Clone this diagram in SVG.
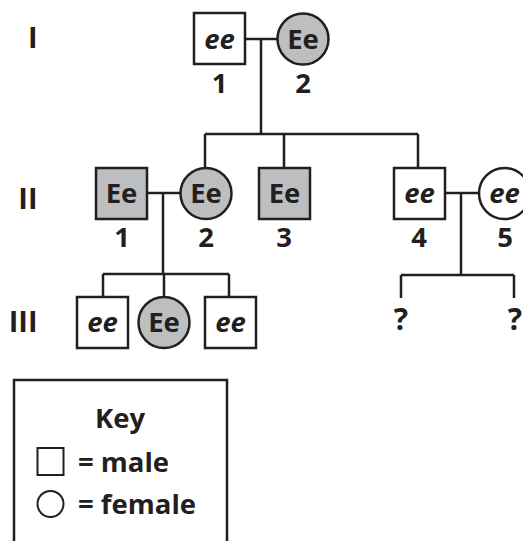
<svg xmlns="http://www.w3.org/2000/svg" width="523" height="541" viewBox="0 0 523 541">
<style>
text{font-family:"Open Sans","Noto Sans","Liberation Sans",sans-serif;font-weight:700;fill:#231f20}
.g{font-size:27.5px;text-anchor:middle}
.i{font-style:italic}
.n{font-size:27.5px;text-anchor:middle}
.q{font-size:30px;text-anchor:middle}
.r{font-size:29px;text-anchor:end}
.k{font-size:27.5px}
.sh{stroke:#231f20;stroke-width:2.5;fill:#fff}
.af{fill:#bcbec0}
.ln{stroke:#231f20;stroke-width:2.5;fill:none}
</style>
<rect width="523" height="541" fill="#fff"/>
<g id="generations">
<text class="r" x="37.5" y="48">I</text>
<text class="r" x="37.5" y="209">II</text>
<text class="r" x="37.5" y="332">III</text>
</g>
<g id="connectors">
<path class="ln" d="M245 39H277M261 39V134M205 134H418M205 134V168M284 134V168M418 134V168"/>
<path class="ln" d="M147 193H181M163 193V274M103 274H229M103 274V297M164 274V297M229 274V297"/>
<path class="ln" d="M445 193H479M461 193V275M401 275H514M401 275V298M514 275V298"/>
</g>
<g id="I-1"><rect class="sh" x="194" y="13" width="51" height="51"/><text class="g i" x="219.5" y="48.5">ee</text><text class="n" x="219.5" y="93">1</text></g>
<g id="I-2"><circle class="sh af" cx="303" cy="39" r="25.5"/><text class="g" x="303" y="48.5">Ee</text><text class="n" x="303" y="93">2</text></g>
<g id="II-1"><rect class="sh af" x="96" y="168" width="51" height="51"/><text class="g" x="121.5" y="202.5">Ee</text><text class="n" x="122" y="247">1</text></g>
<g id="II-2"><circle class="sh af" cx="206" cy="193.5" r="25.5"/><text class="g" x="206" y="202.5">Ee</text><text class="n" x="206" y="247">2</text></g>
<g id="II-3"><rect class="sh af" x="259" y="168" width="51" height="51"/><text class="g" x="284.5" y="202.5">Ee</text><text class="n" x="284" y="247">3</text></g>
<g id="II-4"><rect class="sh" x="394" y="168" width="51" height="51"/><text class="g i" x="419.5" y="202.5">ee</text><text class="n" x="419" y="247">4</text></g>
<g id="II-5"><circle class="sh" cx="504.5" cy="193.5" r="25.5"/><text class="g i" x="504.5" y="202.5">ee</text><text class="n" x="505" y="247">5</text></g>
<g id="III-1"><rect class="sh" x="77" y="297" width="51" height="51"/><text class="g i" x="102.5" y="331.5">ee</text></g>
<g id="III-2"><circle class="sh af" cx="164" cy="322.5" r="25.5"/><text class="g" x="164" y="331.5">Ee</text></g>
<g id="III-3"><rect class="sh" x="205" y="297" width="51" height="51"/><text class="g i" x="230.5" y="331.5">ee</text></g>
<g id="III-4"><text class="q" x="401" y="330">?</text></g>
<g id="III-5"><text class="q" x="515" y="330">?</text></g>
<g id="key">
<path class="ln" d="M14 545V380H227V545"/>
<text class="n" x="120" y="428">Key</text>
<rect x="37.5" y="448" width="26" height="27" fill="none" stroke="#231f20" stroke-width="2"/>
<text class="k" x="78" y="472">= male</text>
<circle cx="50.5" cy="504" r="13" fill="none" stroke="#231f20" stroke-width="2"/>
<text class="k" x="78" y="514">= female</text>
</g>
</svg>
